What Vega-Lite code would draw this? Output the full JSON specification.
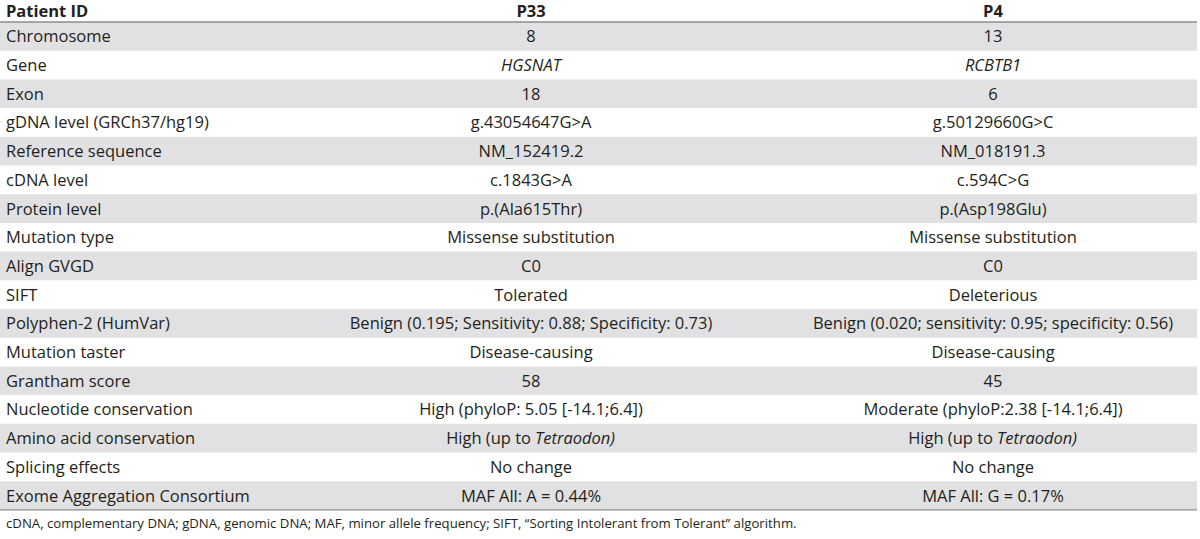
{
  "$schema": "https://vega.github.io/schema/vega-lite/v6.json",
  "width": 1197,
  "height": 539,
  "autosize": {"type": "none"},
  "padding": {"left": 0, "top": 0, "right": 3, "bottom": 0},
  "background": "#ffffff",
  "config": {"view": {"stroke": null}, "text": {"font": "Open Sans", "fontSize": 16.5, "color": "#231f20"}},
  "datasets": {
    "columns": [
      {"column": "Patient ID", "order": 0},
      {"column": "P33", "order": 1},
      {"column": "P4", "order": 2}
    ],
    "params": [
      {"param": "Chromosome", "P33": "8", "P4": "13"},
      {"param": "Gene", "P33": "HGSNAT", "P4": "RCBTB1"},
      {"param": "Exon", "P33": "18", "P4": "6"},
      {"param": "gDNA level (GRCh37/hg19)", "P33": "g.43054647G>A", "P4": "g.50129660G>C"},
      {"param": "Reference sequence", "P33": "NM_152419.2", "P4": "NM_018191.3"},
      {"param": "cDNA level", "P33": "c.1843G>A", "P4": "c.594C>G"},
      {"param": "Protein level", "P33": "p.(Ala615Thr)", "P4": "p.(Asp198Glu)"},
      {"param": "Mutation type", "P33": "Missense substitution", "P4": "Missense substitution"},
      {"param": "Align GVGD", "P33": "C0", "P4": "C0"},
      {"param": "SIFT", "P33": "Tolerated", "P4": "Deleterious"},
      {"param": "Polyphen-2 (HumVar)", "P33": "Benign (0.195; Sensitivity: 0.88; Specificity: 0.73)", "P4": "Benign (0.020; sensitivity: 0.95; specificity: 0.56)"},
      {"param": "Mutation taster", "P33": "Disease-causing", "P4": "Disease-causing"},
      {"param": "Grantham score", "P33": "58", "P4": "45"},
      {"param": "Nucleotide conservation", "P33": "High (phyloP: 5.05 [-14.1;6.4])", "P4": "Moderate (phyloP:2.38 [-14.1;6.4])"},
      {"param": "Amino acid conservation", "P33": "High (up to Tetraodon)", "P4": "High (up to Tetraodon)"},
      {"param": "Splicing effects", "P33": "No change", "P4": "No change"},
      {"param": "Exome Aggregation Consortium", "P33": "MAF All: A = 0.44%", "P4": "MAF All: G = 0.17%"}
    ],
    "notes": [
      {"note": "cDNA, complementary DNA; gDNA, genomic DNA; MAF, minor allele frequency; SIFT, “Sorting Intolerant from Tolerant” algorithm."}
    ]
  },
  "resolve": {"scale": {"x": "shared", "y": "shared"}},
  "layer": [
    {
      "data": {"name": "params"},
      "transform": [
        {"window": [{"op": "row_number", "as": "n"}]},
        {"filter": "datum.n % 2 == 1"}
      ],
      "mark": {"type": "rect", "color": "#e1e1e3"},
      "encoding": {
        "y": {
          "field": "param", "type": "nominal", "axis": null, "sort": null,
          "scale": {
            "type": "band",
            "domain": ["Patient ID", "Chromosome", "Gene", "Exon", "gDNA level (GRCh37/hg19)", "Reference sequence", "cDNA level", "Protein level", "Mutation type", "Align GVGD", "SIFT", "Polyphen-2 (HumVar)", "Mutation taster", "Grantham score", "Nucleotide conservation", "Amino acid conservation", "Splicing effects", "Exome Aggregation Consortium", "note"],
            "range": [-6.7, 538.6],
            "paddingInner": 0,
            "paddingOuter": 0
          }
        }
      }
    },
    {
      "data": {"name": "columns"},
      "transform": [{"filter": "datum.order == 0"}],
      "mark": {"type": "text", "align": "left", "baseline": "middle", "fontWeight": "bold", "dy": 4},
      "encoding": {
        "x": {"field": "order", "type": "quantitative", "axis": null, "scale": {"domain": [0, 1, 2], "range": [6, 531, 993], "zero": false, "nice": false}},
        "y": {"datum": "Patient ID", "type": "nominal", "axis": null},
        "text": {"field": "column"}
      }
    },
    {
      "data": {"name": "columns"},
      "transform": [{"filter": "datum.order > 0"}],
      "mark": {"type": "text", "align": "center", "baseline": "middle", "fontWeight": "bold", "dy": 4},
      "encoding": {
        "x": {"field": "order", "type": "quantitative", "axis": null},
        "y": {"datum": "Patient ID", "type": "nominal", "axis": null},
        "text": {"field": "column"}
      }
    },
    {
      "data": {"name": "params"},
      "mark": {"type": "rule", "color": "#8c8c8c", "strokeWidth": 1.4},
      "transform": [{"filter": "datum.param == 'Chromosome'"}],
      "encoding": {
        "y": {"field": "param", "type": "nominal", "bandPosition": 0, "axis": null}
      }
    },
    {
      "data": {"name": "params"},
      "mark": {"type": "rule", "color": "#8c8c8c", "strokeWidth": 1.4},
      "transform": [{"filter": "datum.param == 'Exome Aggregation Consortium'"}],
      "encoding": {
        "y": {"field": "param", "type": "nominal", "bandPosition": 1, "axis": null}
      }
    },
    {
      "data": {"name": "params"},
      "mark": {"type": "text", "align": "left", "baseline": "middle", "dy": 1},
      "encoding": {
        "x": {"datum": 0, "type": "quantitative", "axis": null},
        "y": {"field": "param", "type": "nominal", "axis": null},
        "text": {"field": "param"}
      }
    },
    {
      "data": {"name": "params"},
      "transform": [{"filter": "datum.param != 'Gene' && datum.param != 'Amino acid conservation'"}],
      "mark": {"type": "text", "align": "center", "baseline": "middle", "dy": 1},
      "encoding": {
        "x": {"datum": 1, "type": "quantitative", "axis": null},
        "y": {"field": "param", "type": "nominal", "axis": null},
        "text": {"field": "P33"}
      }
    },
    {
      "data": {"name": "params"},
      "transform": [{"filter": "datum.param != 'Gene' && datum.param != 'Amino acid conservation'"}],
      "mark": {"type": "text", "align": "center", "baseline": "middle", "dy": 1},
      "encoding": {
        "x": {"datum": 2, "type": "quantitative", "axis": null},
        "y": {"field": "param", "type": "nominal", "axis": null},
        "text": {"field": "P4"}
      }
    },
    {
      "data": {"name": "params"},
      "transform": [{"filter": "datum.param == 'Gene'"}],
      "mark": {"type": "text", "align": "center", "baseline": "middle", "fontStyle": "italic", "dy": 1},
      "encoding": {
        "x": {"datum": 1, "type": "quantitative", "axis": null},
        "y": {"field": "param", "type": "nominal", "axis": null},
        "text": {"field": "P33"}
      }
    },
    {
      "data": {"name": "params"},
      "transform": [{"filter": "datum.param == 'Gene'"}],
      "mark": {"type": "text", "align": "center", "baseline": "middle", "fontStyle": "italic", "dy": 1},
      "encoding": {
        "x": {"datum": 2, "type": "quantitative", "axis": null},
        "y": {"field": "param", "type": "nominal", "axis": null},
        "text": {"field": "P4"}
      }
    },
    {
      "data": {"name": "params"},
      "transform": [
        {"filter": "datum.param == 'Amino acid conservation'"},
        {"calculate": "replace(datum.P33, ' Tetraodon)', '')", "as": "pre33"},
        {"calculate": "replace(datum.P4, ' Tetraodon)', '')", "as": "pre4"}
      ],
      "layer": [
        {
          "mark": {"type": "text", "align": "right", "baseline": "middle", "dx": 0, "dy": 1},
          "encoding": {
            "x": {"datum": 1, "type": "quantitative", "axis": null},
            "y": {"field": "param", "type": "nominal", "axis": null},
            "text": {"field": "pre33"}
          }
        },
        {
          "mark": {"type": "text", "align": "right", "baseline": "middle", "dx": 0, "dy": 1},
          "encoding": {
            "x": {"datum": 2, "type": "quantitative", "axis": null},
            "y": {"field": "param", "type": "nominal", "axis": null},
            "text": {"field": "pre4"}
          }
        }
      ]
    },
    {
      "data": {"name": "params"},
      "transform": [
        {"filter": "datum.param == 'Amino acid conservation'"},
        {"calculate": "substring(datum.P33, indexof(datum.P33, 'Tetraodon'))", "as": "post33"},
        {"calculate": "substring(datum.P4, indexof(datum.P4, 'Tetraodon'))", "as": "post4"}
      ],
      "layer": [
        {
          "mark": {"type": "text", "align": "left", "baseline": "middle", "dx": 4, "dy": 1, "fontStyle": "italic"},
          "encoding": {
            "x": {"datum": 1, "type": "quantitative", "axis": null},
            "y": {"field": "param", "type": "nominal", "axis": null},
            "text": {"field": "post33"}
          }
        },
        {
          "mark": {"type": "text", "align": "left", "baseline": "middle", "dx": 4, "dy": 1, "fontStyle": "italic"},
          "encoding": {
            "x": {"datum": 2, "type": "quantitative", "axis": null},
            "y": {"field": "param", "type": "nominal", "axis": null},
            "text": {"field": "post4"}
          }
        }
      ]
    },
    {
      "data": {"name": "notes"},
      "mark": {"type": "text", "align": "left", "baseline": "middle", "fontSize": 13.2},
      "encoding": {
        "x": {"datum": 0, "type": "quantitative", "axis": null},
        "y": {"datum": "note", "type": "nominal", "bandPosition": 0.5, "axis": null},
        "text": {"field": "note"}
      }
    }
  ]
}
